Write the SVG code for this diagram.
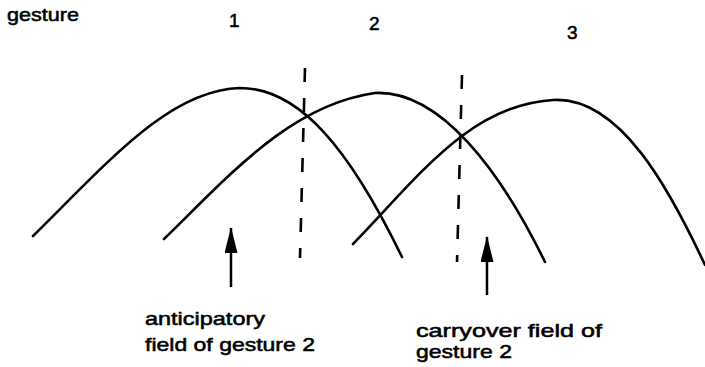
<svg xmlns="http://www.w3.org/2000/svg" width="705" height="367" viewBox="0 0 705 367">
<style>
  .t { font-family: "Liberation Sans", Arial, sans-serif; font-size: 19px; fill: #000; stroke: #000; stroke-width: 0.55; }
  .curve { fill: none; stroke: #000; stroke-width: 2.6; stroke-linecap: round; }
  .dash { fill: none; stroke: #000; stroke-width: 2.6; stroke-dasharray: 14 16; }
  .arrow { fill: none; stroke: #000; stroke-width: 2.5; marker-end: url(#head); }
</style>
<defs>
  <marker id="head" markerUnits="userSpaceOnUse" markerWidth="26" markerHeight="13" viewBox="0 0 26 13" refX="25" refY="6.5" orient="auto">
    <polygon points="0,0 26,6.5 0,13" fill="#000"/>
  </marker>
</defs>
<rect width="705" height="367" fill="#fff"/>
<g id="title">
  <text class="t" x="7" y="21" textLength="72" lengthAdjust="spacingAndGlyphs">gesture</text>
</g>
<g id="gesture1">
  <text class="t" x="229" y="27">1</text>
  <path class="curve" d="M33,236 C110,160 170,90 240,88 C300,88 350,150 402,257"/>
</g>
<g id="gesture2">
  <text class="t" x="369" y="30">2</text>
  <path class="curve" d="M164,239 C230,175 290,105 375,93 C440,90 500,170 545,262"/>
</g>
<g id="gesture3">
  <text class="t" x="567" y="39">3</text>
  <path class="curve" d="M353,244 C420,175 470,105 553,100 C620,96 670,190 705,265"/>
</g>
<g id="boundaries">
  <line class="dash" x1="305" y1="68" x2="300" y2="258"/>
  <line class="dash" x1="462" y1="75" x2="457" y2="262"/>
</g>
<g id="connectors">
  <line class="arrow" x1="231" y1="287" x2="231" y2="228"/>
  <line class="arrow" x1="487" y1="295" x2="487" y2="237"/>
</g>
<g id="anticipatory">
  <text class="t" x="145" y="325" textLength="120" lengthAdjust="spacingAndGlyphs">anticipatory</text>
  <text class="t" x="145" y="351" textLength="170" lengthAdjust="spacingAndGlyphs">field of gesture 2</text>
</g>
<g id="carryover">
  <text class="t" x="416" y="337" textLength="186" lengthAdjust="spacingAndGlyphs">carryover field of</text>
  <text class="t" x="416" y="358" textLength="96" lengthAdjust="spacingAndGlyphs">gesture 2</text>
</g>
</svg>
